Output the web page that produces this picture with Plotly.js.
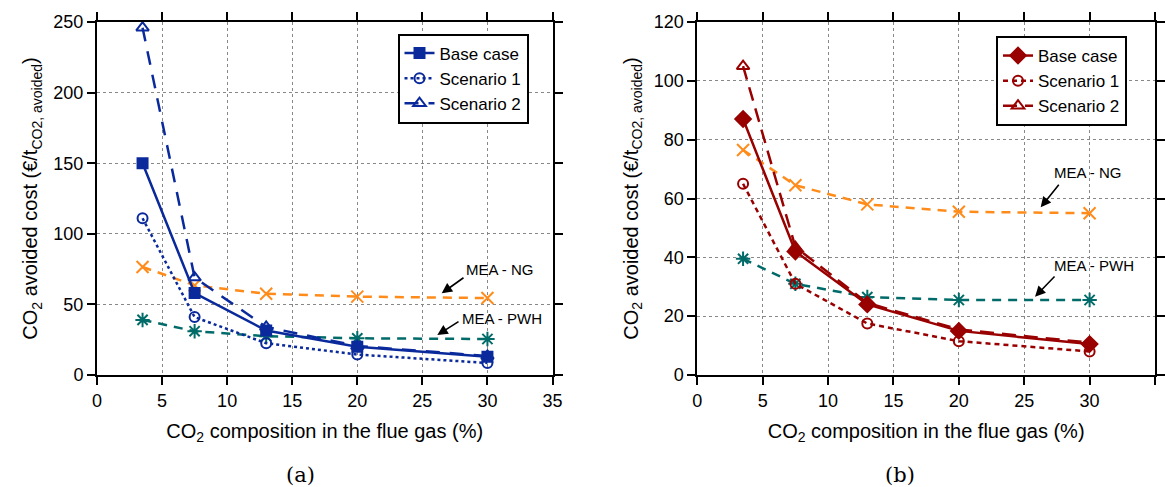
<!DOCTYPE html>
<html><head><meta charset="utf-8">
<script src="https://cdn.plot.ly/plotly-3.0.1.min.js"></script>
<style>body{margin:0;padding:0;background:#fff}#chart{width:1165px;height:487px}</style>
</head><body><div id="chart"></div>
<script>
const xComp = [3.5, 7.5, 13, 20, 30];
// Panel (a)
const aBase = [150, 58, 31.5, 20, 13];
const aScen1 = [111, 41, 22.5, 14.5, 8.5];
const aScen2 = [246, 69, 34, 20.5, 13.5];
const aMeaNG = [76.5, 63.5, 57.5, 55.5, 54.5];
const aMeaPWH = [39, 31, 27.5, 26, 25.5];
// Panel (b)
const bBase = [87, 42, 24, 15, 10.5];
const bScen1 = [65, 31, 17.5, 11.5, 8];
const bScen2 = [105, 43.5, 24.5, 15.5, 11];
const bMeaNG = [76.5, 64.5, 58, 55.5, 55];
const bMeaPWH = [39.5, 31, 26.5, 25.5, 25.5];
const seriesNames = ['Base case', 'Scenario 1', 'Scenario 2'];
const refNames = ['MEA - NG', 'MEA - PWH'];
const panelLabels = ['(a)', '(b)'];

const BLUE = '#0a2a9c', RED = '#990000', ORANGE = '#ff8c1a', TEAL = '#006b68';
const W = 1165, H = 487;
const px = x => x / W, py = y => 1 - y / H;

function tr(x, y, xa, ya, name, color, dash, sym, size, legend, show) {
  return {x, y, xaxis: xa, yaxis: ya, name, type: 'scatter', mode: 'lines+markers',
    line: {color, width: 2.5, dash}, marker: {symbol: sym, size, color, line: {color, width: 2}},
    showlegend: show, legend};
}
const data = [
  tr(xComp, aMeaNG, 'x', 'y', refNames[0], ORANGE, '9px,7px', 'x-thin-open', 12, 'legend', false),
  tr(xComp, aMeaPWH, 'x', 'y', refNames[1], TEAL, '9px,7px', 'asterisk-open', 12, 'legend', false),
  tr(xComp, aScen2, 'x', 'y', seriesNames[2], BLUE, '14px,10px', 'triangle-up-open', 11, 'legend', true),
  tr(xComp, aScen1, 'x', 'y', seriesNames[1], BLUE, 'dot', 'circle-open', 10, 'legend', true),
  tr(xComp, aBase, 'x', 'y', seriesNames[0], BLUE, 'solid', 'square', 10, 'legend', true),
  tr(xComp, bMeaNG, 'x2', 'y2', refNames[0], ORANGE, '9px,7px', 'x-thin-open', 12, 'legend2', false),
  tr(xComp, bMeaPWH, 'x2', 'y2', refNames[1], TEAL, '9px,7px', 'asterisk-open', 12, 'legend2', false),
  tr(xComp, bScen2, 'x2', 'y2', seriesNames[2], RED, '14px,8px', 'triangle-up-open', 11, 'legend2', true),
  tr(xComp, bScen1, 'x2', 'y2', seriesNames[1], RED, '5px,4px', 'circle-open', 10, 'legend2', true),
  tr(xComp, bBase, 'x2', 'y2', seriesNames[0], RED, 'solid', 'diamond', 12, 'legend2', true)
];
data.forEach(d => { if (d.showlegend) d.legendrank = seriesNames.indexOf(d.name) + 1; });

const FONT = 'Liberation Sans, Arial, sans-serif';
const SERIF = 'DejaVu Serif, Liberation Serif, serif';
const axBase = {
  showline: true, linecolor: '#000', linewidth: 2, mirror: 'ticks',
  ticks: 'outside', ticklen: 8, tickwidth: 2, tickcolor: '#000',
  showgrid: true, gridcolor: '#888', griddash: 'dot', gridwidth: 1,
  zeroline: false, tickfont: {family: FONT, size: 18, color: '#000'}
};
const xTitle = {text: 'CO<sub>2</sub> composition in the flue gas (%)', font: {family: FONT, size: 20, color: '#000'}, standoff: 14};
const yTitle = {text: 'CO<sub>2</sub> avoided cost (€/t<sub>CO2, avoided</sub>)', font: {family: FONT, size: 20, color: '#000'}, standoff: 10};

const annFont = {family: FONT, size: 15, color: '#000'};
function label(text, x, y) {
  return {text, xref: 'paper', yref: 'paper', x: px(x), y: py(y), showarrow: false, font: annFont, xanchor: 'center', yanchor: 'middle'};
}
function arrow(hx, hy, tx, ty) {
  return {text: '', xref: 'paper', yref: 'paper', x: px(hx), y: py(hy), ax: tx - hx, ay: ty - hy,
    showarrow: true, arrowhead: 2, arrowsize: 1.3, arrowwidth: 1.6, arrowcolor: '#000'};
}
const legBase = {xanchor: 'left', yanchor: 'top', bgcolor: '#fff', bordercolor: '#000', borderwidth: 2,
  font: {family: FONT, size: 17, color: '#000'}, tracegroupgap: 0, itemwidth: 30, traceorder: 'normal'};

const layout = {
  width: W, height: H, margin: {l: 0, r: 0, t: 0, b: 0},
  paper_bgcolor: '#fff', plot_bgcolor: '#fff', font: {family: FONT},
  xaxis: Object.assign({}, axBase, {domain: [px(97), px(552.5)], range: [0, 35], dtick: 5, title: xTitle, anchor: 'y'}),
  yaxis: Object.assign({}, axBase, {domain: [py(375), py(22)], range: [0, 250], dtick: 50, title: yTitle, anchor: 'x'}),
  xaxis2: Object.assign({}, axBase, {domain: [px(697.3), px(1155)], range: [0, 35], dtick: 5, title: xTitle, anchor: 'y2'}),
  yaxis2: Object.assign({}, axBase, {domain: [py(375), py(22)], range: [0, 120], dtick: 20, title: yTitle, anchor: 'x2'}),
  legend: Object.assign({}, legBase, {x: px(397.5), y: py(33.5)}),
  legend2: Object.assign({}, legBase, {x: px(996), y: py(36)}),
  annotations: [
    label(refNames[0], 500, 269), arrow(441.7, 293.3, 465, 276.7),
    label(refNames[1], 502, 318.5), arrow(437.3, 335, 460, 320.7),
    label(refNames[0], 1088, 172.7), arrow(1040.7, 207.3, 1060, 183.3),
    label(refNames[1], 1094, 265), arrow(1035, 296.7, 1056, 275),
    {text: panelLabels[0], xref: 'paper', yref: 'paper', x: px(300), y: py(475), showarrow: false,
      xanchor: 'center', yanchor: 'middle', font: {family: SERIF, size: 21, color: '#000'}},
    {text: panelLabels[1], xref: 'paper', yref: 'paper', x: px(900), y: py(475), showarrow: false,
      xanchor: 'center', yanchor: 'middle', font: {family: SERIF, size: 21, color: '#000'}}
  ]
};
Plotly.newPlot('chart', data, layout, {displayModeBar: false, staticPlot: true});
</script></body></html>
